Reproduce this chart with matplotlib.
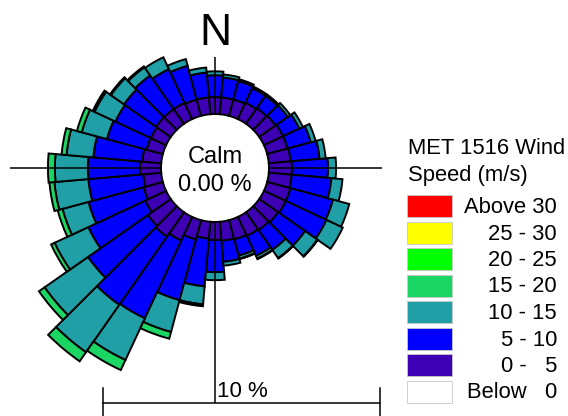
import numpy as np
import matplotlib
matplotlib.use("Agg")
import matplotlib.pyplot as plt
from matplotlib.lines import Line2D
from matplotlib.patches import Rectangle

plt.rcParams['font.family'] = ['Liberation Sans', 'DejaVu Sans']

# ---------------- data (percent of time) ----------------
directions = list(range(0, 360, 10))  # bar centre, degrees from North
speed_0_5 = [0.61, 0.61, 0.61, 0.65, 0.69, 0.72, 0.76, 0.76, 0.79, 0.83, 0.83, 0.87,
             0.87, 0.83, 0.79, 0.76, 0.72, 0.69, 0.65, 0.61, 0.72, 0.94, 1.08, 1.01,
             0.83, 0.72, 0.65, 0.76, 0.69, 0.61, 0.61, 0.65, 0.65, 0.65, 0.61, 0.61]
speed_5_10 = [0.79, 0.72, 0.69, 0.58, 0.54, 0.54, 0.65, 0.87, 1.05, 1.30, 1.44, 1.59,
              1.62, 1.19, 0.87, 0.79, 0.61, 0.76, 1.16, 1.73, 2.27, 3.10, 3.00, 2.64,
              2.27, 2.06, 1.99, 1.88, 1.77, 1.48, 1.41, 1.41, 1.48, 1.34, 1.26, 0.90]
speed_10_15 = [0.14, 0.11, 0.07, 0.07, 0.07, 0.11, 0.14, 0.18, 0.22, 0.29, 0.40, 0.61,
               0.65, 0.54, 0.36, 0.11, 0.11, 0.14, 0.29, 0.65, 1.19, 1.66, 2.09, 1.91,
               1.34, 0.97, 1.23, 1.19, 0.97, 0.94, 0.83, 0.58, 0.36, 0.47, 0.25, 0.18]
speed_15_20 = [0.00, 0.00, 0.00, 0.00, 0.00, 0.00, 0.00, 0.00, 0.00, 0.00, 0.00, 0.00,
               0.00, 0.02, 0.02, 0.02, 0.02, 0.00, 0.00, 0.07, 0.25, 0.40, 0.40, 0.25,
               0.14, 0.18, 0.18, 0.25, 0.18, 0.18, 0.07, 0.04, 0.04, 0.00, 0.00, 0.00]
calm_percent = 0.00
scale_percent = 10

legend_title = "MET 1516 Wind\nSpeed (m/s)"
legend_labels = ["Above 30", "25 - 30", "20 - 25", "15 - 20", "10 - 15",
                 "5 - 10", "0 -   5", "Below   0"]
legend_colors = ["#FF0000", "#FFFF00", "#00FF00", "#1CD663", "#20A0A6",
                 "#0000FF", "#3D00B5", "#FFFFFF"]
band_colors = ["#3D00B5", "#0000FF", "#20A0A6", "#1CD663"]

# ---------------- layout ----------------
W, H = 568, 416
fig = plt.figure(figsize=(W / 100, H / 100), dpi=100)
fig.patch.set_facecolor("white")

PX = 27.7            # pixels per percent
CX, CY = 215, 168    # rose centre (pixels from left / top)
calm_r = 54 / PX     # calm circle radius in percent units
RMAX = 9.0
R_px = RMAX * PX


def fx(x):
    return x / W


def fy(y):
    return 1 - y / H


ax = fig.add_axes([(CX - R_px) / W, (H - CY - R_px) / H, 2 * R_px / W, 2 * R_px / H],
                  projection="polar")
ax.set_theta_zero_location("N")
ax.set_theta_direction(-1)
ax.set_ylim(0, RMAX)
ax.axis("off")

theta = np.deg2rad(directions)
width = np.deg2rad(10)
bottom = np.full(len(directions), calm_r)
for vals, col in zip([speed_0_5, speed_5_10, speed_10_15, speed_15_20], band_colors):
    vals = np.asarray(vals, dtype=float)
    m = vals > 0
    ax.bar(theta[m], vals[m], width=width, bottom=bottom[m], color=col,
           edgecolor="black", linewidth=1.4, zorder=2)
    bottom = bottom + vals

# cross lines (drawn over bars, outside the calm circle)
ends = {0: (CY - 57) / PX, 90: (382 - CX) / PX, 180: (403 - CY) / PX, 270: (CX - 10) / PX}
for ang, r_end in ends.items():
    ax.plot([np.deg2rad(ang)] * 2, [calm_r, r_end], color="black", lw=1.1, zorder=3,
            solid_capstyle="butt")

# centre labels
fig.text(fx(CX), fy(163), "Calm", ha="center", va="baseline", fontsize=17)
fig.text(fx(CX), fy(191), f"{calm_percent:.2f} %", ha="center", va="baseline", fontsize=17)
fig.text(fx(CX), fy(45), "N", ha="center", va="baseline", fontsize=32)

# scale bar
x0 = 103.3
x1 = x0 + scale_percent * PX
fig.add_artist(Line2D([fx(x0), fx(x1)], [fy(403), fy(403)], transform=fig.transFigure,
                      color="black", lw=1.1))
for xx in (x0, x1):
    fig.add_artist(Line2D([fx(xx), fx(xx)], [fy(388), fy(417)], transform=fig.transFigure,
                          color="black", lw=1.1))
fig.text(fx(217), fy(397), f"{scale_percent} %", ha="left", va="baseline", fontsize=16)

# legend
title_lines = legend_title.split("\n")
fig.text(fx(408), fy(154), title_lines[0], ha="left", va="baseline", fontsize=15.8)
fig.text(fx(408), fy(181), title_lines[1], ha="left", va="baseline", fontsize=15.8)
tops = [195, 221.5, 248, 274.5, 301, 327.5, 354, 380.5]
for top, lab, col in zip(tops, legend_labels, legend_colors):
    fig.add_artist(Rectangle((fx(407), fy(top + 22)), 45 / W, 22 / H,
                             transform=fig.transFigure, facecolor=col,
                             edgecolor="#c8c8c8", lw=0.6))
    fig.text(fx(557), fy(top + 18), lab, ha="right", va="baseline", fontsize=15.8)

fig.savefig("out.png", dpi=100, facecolor="white")
